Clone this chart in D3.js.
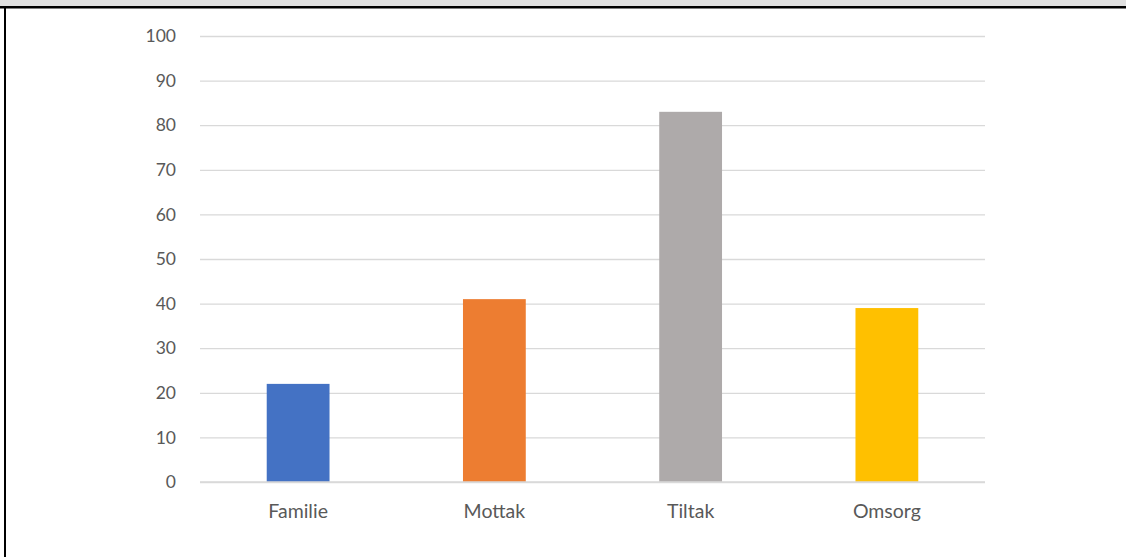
<!DOCTYPE html>
<html><head><meta charset="utf-8">
<script src="https://cdn.jsdelivr.net/npm/d3@7"></script>
<style>body{margin:0;background:#fff}svg{display:block}</style>
</head><body>
<svg id="c" width="1126" height="557"></svg>
<script>
const categories = ["Familie", "Mottak", "Tiltak", "Omsorg"];
const values = [22, 41, 83, 39];
const colors = ["#4472C4", "#ED7D31", "#AEAAAA", "#FFC000"];
const yTicks = [0, 10, 20, 30, 40, 50, 60, 70, 80, 90, 100];

const svg = d3.select("#c");
// frame
svg.append("rect").attr("x", 0).attr("y", 0).attr("width", 1126).attr("height", 7).attr("fill", "#e0e0e0");
svg.append("rect").attr("x", 0).attr("y", 6).attr("width", 1126).attr("height", 2.5).attr("fill", "#000");
svg.append("rect").attr("x", 4).attr("y", 6).attr("width", 2).attr("height", 551).attr("fill", "#000");

const x = d3.scaleBand().domain(categories).range([200, 985]).paddingInner(0.68).paddingOuter(0.34);
const y = d3.scaleLinear().domain([0, 100]).range([482, 36]);

const gy = svg.append("g").attr("transform", "translate(200,0)")
  .call(d3.axisLeft(y).tickValues(yTicks).tickSize(-785).tickPadding(24).tickFormat(d3.format("d")));
gy.select(".domain").remove();
gy.selectAll("line").attr("stroke", "#d9d9d9").attr("stroke-width", 1.3);
gy.selectAll("text").attr("fill", "#595959").style("font-family", "Lato, 'Open Sans', sans-serif").style("font-size", "17.5px");

svg.selectAll("rect.bar").data(values).enter().append("rect").attr("class", "bar")
  .attr("x", (d, i) => x(categories[i]))
  .attr("width", x.bandwidth())
  .attr("y", d => y(d))
  .attr("height", d => y(0) - y(d))
  .attr("fill", (d, i) => colors[i]);

const gx = svg.append("g").attr("transform", "translate(0,482)")
  .call(d3.axisBottom(x).tickSize(0).tickPadding(22));
gx.select(".domain").remove();
gx.selectAll("text").attr("fill", "#595959").style("font-family", "Lato, 'Open Sans', sans-serif").style("font-size", "19.5px");
svg.append("line").attr("x1", 200).attr("x2", 985).attr("y1", 482).attr("y2", 482).attr("stroke", "#d9d9d9").attr("stroke-width", 1.3);
</script>
</body></html>
